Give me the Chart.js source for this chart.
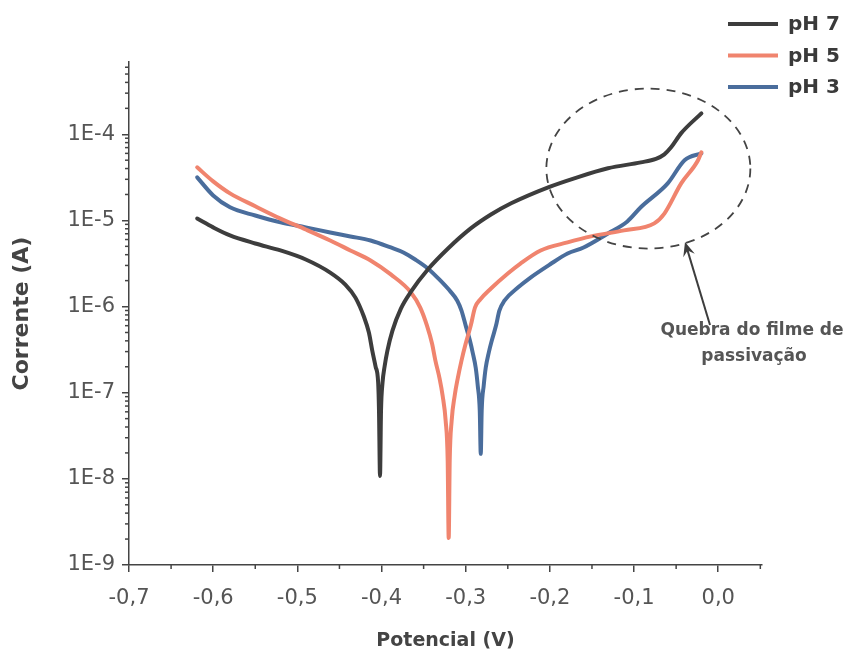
<!DOCTYPE html>
<html>
<head>
<meta charset="utf-8">
<script src="https://cdn.jsdelivr.net/npm/chart.js@4.4.1/dist/chart.umd.min.js"></script>
<style>
  body { margin: 0; background: #fff; }
  #wrap { width: 845px; height: 652px; position: relative; }
</style>
</head>
<body>
<div id="wrap"><canvas id="myChart"></canvas></div>
<script>
// data block
const seriesLabels = ['pH 7', 'pH 5', 'pH 3'];

// pH 7 - potencial (V) and corrente (A)
const ph7V = [-0.619, -0.600, -0.580, -0.550, -0.520, -0.490, -0.461, -0.443, -0.431, -0.421, -0.415, -0.411, -0.407, -0.404, -0.4030, -0.4018, -0.4006, -0.3988, -0.3964, -0.393, -0.387, -0.377, -0.365, -0.345, -0.321, -0.294, -0.270, -0.246, -0.202, -0.171, -0.131, -0.092, -0.074, -0.064, -0.056, -0.044, -0.020];
const ph7I = [1.05e-5, 8.3e-6, 6.7e-6, 5.4e-6, 4.48e-6, 3.52e-6, 2.48e-6, 1.80e-6, 1.27e-6, 7.66e-7, 4.99e-7, 3.08e-7, 2.00e-7, 1.31e-7, 6.18e-8, 1.08e-8, 6.18e-8, 1.31e-7, 2.00e-7, 3.08e-7, 5.26e-7, 9.48e-7, 1.49e-6, 2.69e-6, 4.72e-6, 8.07e-6, 1.17e-5, 1.58e-5, 2.42e-5, 3.08e-5, 4.03e-5, 4.72e-5, 5.19e-5, 5.85e-5, 7.06e-5, 1.03e-4, 1.75e-4];

// pH 5
const ph5V = [-0.619, -0.600, -0.580, -0.550, -0.520, -0.490, -0.461, -0.437, -0.413, -0.389, -0.365, -0.354, -0.346, -0.340, -0.336, -0.331, -0.3274, -0.3238, -0.3214, -0.3202, -0.3190, -0.3167, -0.3131, -0.3095, -0.305, -0.300, -0.294, -0.289, -0.283, -0.270, -0.250, -0.235, -0.211, -0.179, -0.151, -0.112, -0.076, -0.064, -0.044, -0.024, -0.020];
const ph5I = [4.13e-5, 2.84e-5, 2.06e-5, 1.46e-5, 1.05e-5, 7.85e-6, 5.85e-6, 4.48e-6, 3.43e-6, 2.36e-6, 1.46e-6, 9.73e-7, 6.01e-7, 3.72e-7, 2.36e-7, 1.46e-7, 9.23e-8, 4.72e-8, 1.62e-8, 2.06e-9, 1.62e-8, 4.72e-8, 9.23e-8, 1.46e-7, 2.36e-7, 3.72e-7, 6.01e-7, 9.73e-7, 1.20e-6, 1.62e-6, 2.42e-6, 3.16e-6, 4.48e-6, 5.55e-6, 6.52e-6, 7.66e-6, 9.23e-6, 1.20e-5, 2.69e-5, 4.99e-5, 6.18e-5];

// pH 3
const ph3V = [-0.619, -0.600, -0.580, -0.550, -0.520, -0.490, -0.461, -0.437, -0.413, -0.389, -0.374, -0.360, -0.345, -0.330, -0.318, -0.310, -0.305, -0.300, -0.295, -0.2917, -0.2881, -0.2857, -0.2833, -0.2821, -0.2810, -0.2786, -0.2762, -0.2726, -0.269, -0.264, -0.260, -0.254, -0.238, -0.223, -0.200, -0.179, -0.160, -0.131, -0.108, -0.092, -0.060, -0.040, -0.020];
const ph3I = [3.16e-5, 1.95e-5, 1.42e-5, 1.14e-5, 9.48e-6, 8.30e-6, 7.25e-6, 6.52e-6, 5.85e-6, 4.85e-6, 4.25e-6, 3.52e-6, 2.77e-6, 2.00e-6, 1.49e-6, 1.17e-6, 8.98e-7, 6.01e-7, 4.03e-7, 2.92e-7, 1.95e-7, 1.21e-7, 6.18e-8, 1.95e-8, 6.18e-8, 1.21e-7, 1.95e-7, 2.92e-7, 4.03e-7, 6.01e-7, 8.98e-7, 1.17e-6, 1.66e-6, 2.17e-6, 3.08e-6, 4.13e-6, 4.85e-6, 7.06e-6, 9.73e-6, 1.42e-5, 2.69e-5, 4.99e-5, 6.01e-5];

// axis ticks
const xTicks = [-0.7, -0.6, -0.5, -0.4, -0.3, -0.2, -0.1, 0.0];
const xMinorTicks = [-0.65, -0.55, -0.45, -0.35, -0.25, -0.15, -0.05, 0.05];
const yTicks = [1e-9, 1e-8, 1e-7, 1e-6, 1e-5, 1e-4];
const yMinorFactors = [2, 3, 4, 5, 6, 7, 8, 9];

const annotationText = ['Quebra do filme de', 'passivação'];

function toPoints(xs, ys) {
    return xs.map((v, i) => ({ x: v, y: ys[i] }));
}

const colors = ['#3d3d3d', '#f0846e', '#4a6d9c'];

const data = {
    datasets: [
        { label: seriesLabels[0], data: toPoints(ph7V, ph7I), borderColor: colors[0] },
        { label: seriesLabels[1], data: toPoints(ph5V, ph5I), borderColor: colors[1] },
        { label: seriesLabels[2], data: toPoints(ph3V, ph3I), borderColor: colors[2] }
    ].map(d => Object.assign(d, {
        borderWidth: 4,
        pointRadius: 0,
        fill: false,
        cubicInterpolationMode: 'monotone',
        borderCapStyle: 'round',
        borderJoinStyle: 'round'
    }))
};

// extras: minor ticks, legend, dashed ellipse, arrow and note
const extras = {
    id: 'extras',
    afterDraw(chart) {
        const ctx = chart.ctx;
        const xs = chart.scales.x;
        const ys = chart.scales.y;
        const area = chart.chartArea;
        ctx.save();

        // minor ticks
        ctx.strokeStyle = '#444';
        ctx.lineWidth = 1.5;
        xMinorTicks.forEach(v => {
            const px = xs.getPixelForValue(v);
            ctx.beginPath();
            ctx.moveTo(px, area.bottom);
            ctx.lineTo(px, area.bottom + 4);
            ctx.stroke();
        });
        yTicks.forEach(dec => {
            yMinorFactors.forEach(f => {
                const v = dec * f;
                if (v > ys.max) return;
                const py = ys.getPixelForValue(v);
                ctx.beginPath();
                ctx.moveTo(area.left, py);
                ctx.lineTo(area.left - 4, py);
                ctx.stroke();
            });
        });

        // legend
        ctx.font = 'bold 20px "DejaVu Sans"';
        ctx.textBaseline = 'middle';
        ctx.textAlign = 'left';
        chart.data.datasets.forEach((d, i) => {
            const ly = 24 + i * 31.5;
            ctx.strokeStyle = d.borderColor;
            ctx.lineWidth = 4;
            ctx.beginPath();
            ctx.moveTo(728, ly);
            ctx.lineTo(778, ly);
            ctx.stroke();
            ctx.fillStyle = '#3a3a3a';
            ctx.fillText(d.label, 788, ly + 1);
        });

        // dashed ellipse around the passivation break
        const cx = xs.getPixelForValue(-0.083);
        const cy = ys.getPixelForValue(4.0e-5);
        ctx.strokeStyle = '#444';
        ctx.lineWidth = 1.8;
        ctx.setLineDash([9, 7]);
        ctx.beginPath();
        ctx.ellipse(cx, cy, 102, 80, 0, 0, Math.PI * 2);
        ctx.stroke();
        ctx.setLineDash([]);

        // arrow
        const ax0 = 710, ay0 = 325, ax1 = 685, ay1 = 242;
        const ang = Math.atan2(ay1 - ay0, ax1 - ax0);
        ctx.strokeStyle = '#3d3d3d';
        ctx.fillStyle = '#3d3d3d';
        ctx.lineWidth = 2;
        ctx.beginPath();
        ctx.moveTo(ax0, ay0);
        ctx.lineTo(ax1 - 8 * Math.cos(ang), ay1 - 8 * Math.sin(ang));
        ctx.stroke();
        ctx.beginPath();
        ctx.moveTo(ax1, ay1);
        ctx.lineTo(ax1 - 14 * Math.cos(ang) + 6 * Math.sin(ang), ay1 - 14 * Math.sin(ang) - 6 * Math.cos(ang));
        ctx.lineTo(ax1 - 9 * Math.cos(ang), ay1 - 9 * Math.sin(ang));
        ctx.lineTo(ax1 - 14 * Math.cos(ang) - 6 * Math.sin(ang), ay1 - 14 * Math.sin(ang) + 6 * Math.cos(ang));
        ctx.closePath();
        ctx.fill();

        // note
        ctx.font = 'bold 17px "DejaVu Sans"';
        ctx.fillStyle = '#555';
        ctx.textAlign = 'center';
        ctx.fillText(annotationText[0], 752, 331);
        ctx.fillText(annotationText[1], 754, 357);

        ctx.restore();
    }
};

//config block
const config = {
    type: 'line',
    data: data,
    options: {
        responsive: true,
        maintainAspectRatio: false,
        animation: false,
        layout: { padding: { top: 62, right: 83, left: 0, bottom: 0 } },
        plugins: {
            legend: { display: false },
            tooltip: { enabled: false }
        },
        scales: {
            x: {
                type: 'linear',
                min: -0.7,
                max: 0.052,
                afterBuildTicks: s => { s.ticks = xTicks.map(v => ({ value: v })); },
                afterFit: s => { s.height = 87; },
                grid: { drawOnChartArea: false, tickLength: 7, color: '#444', lineWidth: 1.5 },
                border: { color: '#444', width: 1.5 },
                ticks: {
                    autoSkip: false,
                    maxRotation: 0,
                    padding: 14,
                    color: '#555',
                    font: { family: 'DejaVu Sans', size: 21 },
                    callback: v => v.toFixed(1).replace('.', ',').replace('-0,0', '0,0')
                },
                title: {
                    display: true,
                    text: 'Potencial (V)',
                    color: '#444',
                    font: { family: 'DejaVu Sans', size: 19, weight: 'bold' },
                    padding: { top: 0, bottom: 0 }
                }
            },
            y: {
                type: 'logarithmic',
                min: 1e-9,
                max: 6.9e-4,
                afterBuildTicks: s => { s.ticks = yTicks.map(v => ({ value: v })); },
                afterFit: s => { s.width = 129; },
                grid: { drawOnChartArea: false, tickLength: 7, color: '#444', lineWidth: 1.5 },
                border: { color: '#444', width: 1.5 },
                ticks: {
                    autoSkip: false,
                    padding: 7,
                    color: '#555',
                    font: { family: 'DejaVu Sans', size: 21 },
                    callback: v => '1E' + Math.round(Math.log10(v))
                },
                title: {
                    display: true,
                    text: 'Corrente (A)',
                    color: '#444',
                    font: { family: 'DejaVu Sans', size: 22, weight: 'bold' },
                    padding: { top: 9, bottom: 0 }
                }
            }
        }
    },
    plugins: [extras]
};

//render block
const myChart = new Chart(
    document.getElementById('myChart'),
    config
);
</script>
</body>
</html>
